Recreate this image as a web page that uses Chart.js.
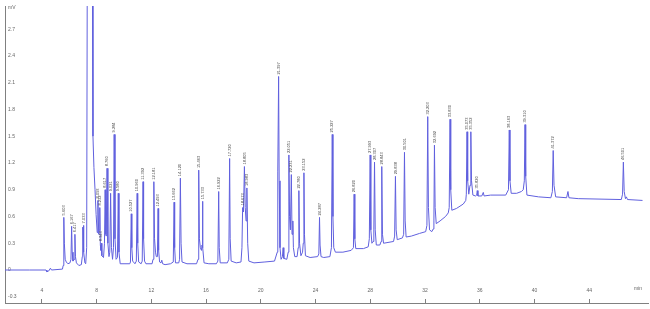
<!DOCTYPE html>
<html>
<head>
<meta charset="utf-8">
<script src="https://cdn.jsdelivr.net/npm/chart.js@4.4.1/dist/chart.umd.min.js"></script>
<style>
html,body{margin:0;padding:0;background:#fff;}
#wrap{width:650px;height:309px;}
</style>
</head>
<body>
<div id="wrap"><canvas id="c" width="650" height="309"></canvas></div>
<script>
// Chromatogram trace: [time (min), signal (mV)]
const trace = [
[1.30,0.00],[3.10,0.00],[4.30,0.00],[4.36,-0.02],[4.50,-0.01],[4.62,0.02],[4.70,0.00],[5.50,0.01],
[5.55,0.05],[5.60,0.59],[5.64,0.30],[5.70,0.12],[5.78,0.09],[5.90,0.07],[6.05,0.08],
[6.12,0.12],[6.17,0.49],[6.21,0.20],[6.27,0.10],
[6.36,0.12],[6.41,0.40],[6.45,0.15],[6.52,0.08],[6.70,0.05],[6.88,0.06],
[6.95,0.15],[6.98,0.48],[7.01,0.44],[7.03,0.50],[7.07,0.20],[7.14,0.08],[7.20,0.07],
[7.27,0.25],[7.32,3.80],[7.68,3.80],[7.73,1.50],[7.80,1.15],[7.88,0.90],[7.96,0.62],[8.04,0.42],
[8.09,0.78],[8.15,0.40],[8.19,0.45],[8.23,0.70],[8.27,0.28],[8.31,0.22],[8.34,0.30],[8.38,0.16],
[8.50,0.14],[8.57,0.30],[8.62,0.90],[8.67,0.40],[8.70,0.38],[8.76,1.14],[8.82,0.30],[8.90,0.15],
[8.96,0.20],[9.02,0.86],[9.08,0.25],[9.16,0.12],[9.23,0.25],[9.28,1.52],[9.34,0.35],[9.42,0.12],
[9.52,0.14],[9.58,0.86],[9.63,0.20],[9.72,0.07],[10.00,0.07],[10.42,0.07],
[10.47,0.09],[10.53,0.63],[10.57,0.25],[10.63,0.10],[10.80,0.07],
[10.90,0.10],[10.96,0.86],[11.00,0.30],[11.07,0.09],[11.25,0.07],
[11.33,0.10],[11.39,0.99],[11.43,0.35],[11.50,0.10],[11.60,0.07],[12.05,0.07],
[12.12,0.12],[12.18,0.99],[12.23,0.35],[12.30,0.20],[12.36,0.15],
[12.44,0.15],[12.49,0.69],[12.53,0.22],[12.60,0.09],[12.70,0.08],[12.76,0.11],[12.82,0.07],[13.00,0.06],[13.40,0.07],
[13.60,0.09],[13.66,0.76],[13.70,0.25],[13.76,0.08],[14.00,0.08],
[14.06,0.12],[14.12,1.03],[14.17,0.30],[14.24,0.09],[14.60,0.07],[15.30,0.07],
[15.41,0.12],[15.46,1.12],[15.51,0.35],[15.58,0.25],[15.66,0.22],
[15.70,0.28],[15.73,0.77],[15.77,0.25],[15.85,0.08],[16.20,0.07],[16.75,0.07],
[16.86,0.10],[16.92,0.88],[16.96,0.25],[17.03,0.08],[17.55,0.08],
[17.66,0.12],[17.72,1.25],[17.76,0.35],[17.83,0.10],[18.20,0.08],[18.55,0.09],
[18.62,0.25],[18.67,0.70],[18.73,0.65],[18.80,1.16],[18.86,0.70],[18.92,0.55],[18.98,0.92],[19.04,0.30],
[19.12,0.10],[19.50,0.08],[20.30,0.09],[21.00,0.10],
[21.20,0.20],[21.24,1.10],[21.30,2.17],[21.34,1.00],[21.40,0.25],[21.48,0.12],[21.58,0.15],[21.63,0.25],[21.68,0.13],[21.90,0.12],
[22.00,0.20],[22.05,1.29],[22.10,0.60],[22.16,0.45],[22.23,1.07],[22.28,0.40],[22.34,0.55],[22.38,0.25],[22.48,0.15],[22.65,0.15],
[22.73,0.25],[22.78,0.89],[22.83,0.30],[22.93,0.16],[23.05,0.20],
[23.10,0.30],[23.15,1.09],[23.19,0.40],[23.26,0.16],[23.60,0.14],[24.15,0.15],
[24.24,0.18],[24.29,0.59],[24.33,0.28],[24.40,0.15],[24.60,0.14],[25.05,0.15],
[25.16,0.25],[25.22,1.52],[25.27,0.60],[25.33,0.25],[25.45,0.20],[26.00,0.20],[26.60,0.22],
[26.77,0.25],[26.82,0.85],[26.87,0.35],[26.94,0.24],[27.50,0.24],[27.85,0.26],
[27.93,0.35],[27.99,1.29],[28.04,0.45],[28.12,0.30],[28.20,0.32],[28.26,0.45],[28.31,1.21],[28.36,0.45],[28.44,0.28],[28.70,0.28],
[28.79,0.32],[28.84,1.16],[28.89,0.40],[28.97,0.30],[29.70,0.32],
[29.78,0.38],[29.84,1.05],[29.89,0.45],[29.97,0.34],[30.35,0.36],
[30.44,0.40],[30.50,1.32],[30.55,0.55],[30.62,0.37],[31.00,0.38],[31.60,0.41],[32.05,0.43],
[32.14,0.50],[32.20,1.72],[32.25,0.70],[32.33,0.45],[32.50,0.43],[32.60,0.46],
[32.65,0.55],[32.69,1.40],[32.74,0.70],[32.82,0.52],[33.10,0.55],[33.50,0.60],[33.70,0.64],
[33.77,0.70],[33.83,1.69],[33.88,0.90],[33.96,0.67],[34.30,0.69],[34.80,0.74],[34.98,0.78],
[35.02,0.85],[35.07,1.55],[35.12,1.00],[35.20,0.85],[35.29,0.95],[35.35,1.55],[35.40,1.00],[35.50,0.84],[35.70,0.83],
[35.78,0.84],[35.82,0.89],[35.87,0.83],[36.15,0.83],[36.26,0.87],[36.32,0.83],[36.80,0.84],[37.90,0.84],
[38.10,0.90],[38.16,1.57],[38.21,1.00],[38.30,0.86],[38.70,0.86],[39.05,0.88],[39.18,0.90],
[39.26,1.00],[39.31,1.63],[39.36,1.05],[39.45,0.84],[40.30,0.82],[41.20,0.81],
[41.31,0.88],[41.37,1.34],[41.43,0.95],[41.55,0.82],[42.35,0.81],[42.45,0.88],[42.52,0.81],[43.20,0.80],[46.35,0.79],
[46.44,0.85],[46.50,1.21],[46.56,0.88],[46.65,0.80],[46.72,0.82],[46.80,0.79],[47.90,0.78]
];

// Labelled peaks: retention time, apex height, printed label
const peakTimes   = [5.60,6.17,6.41,7.03,8.09,8.23,8.34,8.62,8.76,9.02,9.28,9.58,10.53,10.96,11.39,12.18,12.49,13.66,14.12,15.46,15.73,16.92,17.72,18.67,18.80,18.98,21.30,22.05,22.23,22.78,23.15,24.29,25.22,26.82,27.99,28.31,28.84,29.84,30.50,32.20,32.69,33.83,35.07,35.35,35.82,38.16,39.31,41.37,46.50];
const peakHeights = [0.59,0.49,0.40,0.50,0.78,0.70,0.30,0.90,1.14,0.86,1.52,0.86,0.63,0.86,0.99,0.99,0.69,0.76,1.03,1.12,0.77,0.88,1.25,0.70,1.16,0.92,2.17,1.29,1.07,0.89,1.09,0.59,1.52,0.85,1.29,1.21,1.16,1.05,1.32,1.72,1.40,1.69,1.55,1.55,0.89,1.57,1.63,1.34,1.21];
const peakLabels  = ["5.603","6.167","6.417","7.033","8.093","8.232","8.343","8.617","8.760","9.021","9.284","9.580","10.527","10.960","11.392","12.181","12.493","13.662","14.120","15.463","15.733","16.922","17.720","18.673","18.805","18.983","21.397","22.051","22.231","22.780","23.152","24.287","25.227","26.820","27.993","28.307","28.843","29.838","30.501","32.203","32.692","33.830","35.073","35.352","35.820","38.163","39.310","41.372","46.501"];

const xTickValues = [4,8,12,16,20,24,28,32,36,40,44];
const xTickLabels = ["4","8","12","16","20","24","28","32","36","40","44"];
const yTickValues = [-0.3,0,0.3,0.6,0.9,1.2,1.5,1.8,2.1,2.4,2.7];
const yTickLabels = ["-0.3","0","0.3","0.6","0.9","1.2","1.5","1.8","2.1","2.4","2.7"];
const yUnit = "mV";
const xUnit = "min";

const LINE = 'rgb(96,96,222)';
const TXT = '#666';
const AXIS = '#808080';

const peakLabelPlugin = {
  id: 'peakLabels',
  afterDatasetsDraw(chart) {
    const {ctx, scales:{x, y}} = chart;
    ctx.save();
    ctx.fillStyle = '#444';
    ctx.font = '4px "Liberation Sans", Arial, sans-serif';
    ctx.textAlign = 'left';
    ctx.textBaseline = 'middle';
    peakTimes.forEach((t, i) => {
      const px = x.getPixelForValue(t);
      const py = y.getPixelForValue(peakHeights[i]) - 2;
      ctx.save();
      ctx.translate(px, py);
      ctx.rotate(-Math.PI / 2);
      ctx.fillText(peakLabels[i], 0, 0);
      ctx.restore();
    });
    ctx.restore();
  }
};

const unitPlugin = {
  id: 'units',
  afterDraw(chart) {
    const {ctx, chartArea} = chart;
    ctx.save();
    ctx.fillStyle = TXT;
    ctx.font = '5px "Liberation Sans", Arial, sans-serif';
    ctx.textBaseline = 'middle';
    ctx.textAlign = 'left';
    ctx.fillText(yUnit, chartArea.left + 3, 8);
    ctx.textAlign = 'center';
    ctx.fillText(xUnit, 638, 289);
    ctx.restore();
  }
};

new Chart(document.getElementById('c'), {
  type: 'line',
  data: {
    datasets: [{
      data: trace.map(p => ({x: p[0], y: p[1]})),
      borderColor: LINE,
      borderWidth: 1,
      pointRadius: 0,
      tension: 0,
      fill: false
    }]
  },
  options: {
    responsive: false,
    animation: false,
    devicePixelRatio: 1,
    layout: {padding: {top: 0, right: 2, left: 0, bottom: 0}},
    plugins: {legend: {display: false}, tooltip: {enabled: false}},
    scales: {
      x: {
        type: 'linear',
        min: 1.3, max: 48.3,
        afterBuildTicks: s => { s.ticks = xTickValues.map(v => ({value: v})); },
        afterFit: s => { s.height = 4; },
        ticks: {
          autoSkip: false, maxRotation: 0, mirror: true, padding: 9,
          color: TXT,
          font: {size: 5, family: '"Liberation Sans", Arial, sans-serif'},
          callback: (v, i) => xTickLabels[i]
        },
        grid: {drawOnChartArea: false, drawTicks: true, tickLength: -4, color: AXIS},
        border: {display: true, color: AXIS, width: 1}
      },
      y: {
        type: 'linear',
        min: -0.37, max: 2.96,
        afterBuildTicks: s => { s.ticks = yTickValues.map(v => ({value: v})); },
        afterFit: s => { s.width = 5; },
        ticks: {
          mirror: true, padding: 3,
          color: TXT,
          font: {size: 5, family: '"Liberation Sans", Arial, sans-serif'},
          callback: (v, i) => yTickLabels[i]
        },
        grid: {drawOnChartArea: false, drawTicks: false},
        border: {display: true, color: AXIS, width: 1}
      }
    }
  },
  plugins: [peakLabelPlugin, unitPlugin]
});
</script>
</body>
</html>
